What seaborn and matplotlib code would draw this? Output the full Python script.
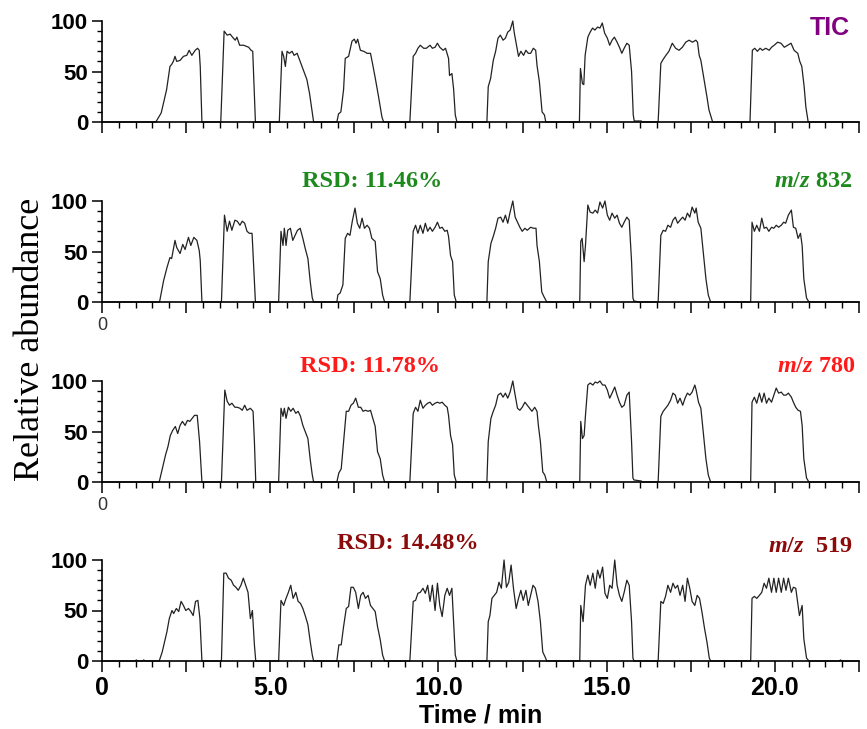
import matplotlib
matplotlib.use("Agg")
import matplotlib.pyplot as plt
import matplotlib.ticker as ticker
import pandas as pd
import seaborn as sns

sns.set_style("ticks")
plt.rcParams['font.family'] = ['Liberation Sans', 'DejaVu Sans']
plt.rcParams['mathtext.fontset'] = 'custom'
plt.rcParams['mathtext.it'] = 'Liberation Serif:italic:bold'
plt.rcParams['mathtext.rm'] = 'Liberation Serif:bold'
for key in ['text.color', 'axes.labelcolor', 'xtick.color', 'ytick.color']:
    plt.rcParams[key] = 'black'

# ---- traces (time in min, relative abundance) ----
tic_t = [0, 1.60, 1.76, 1.83, 1.92, 2.02, 2.07, 2.12, 2.17, 2.22, 2.32, 2.42, 2.52, 2.59, 2.67, 2.77, 2.84, 2.89, 2.92, 2.97,
         3.53, 3.63, 3.72, 3.81, 3.88, 3.96, 4.01, 4.09, 4.21, 4.36, 4.43, 4.48, 4.56,
         5.27, 5.35, 5.40, 5.45, 5.50, 5.57, 5.65, 5.71, 5.80, 5.89, 5.99, 6.09, 6.17, 6.24, 6.29,
         6.98, 7.03, 7.10, 7.18, 7.23, 7.33, 7.43, 7.50, 7.55, 7.60, 7.68, 7.78, 7.88, 7.98, 8.04, 8.13, 8.22, 8.32, 8.37,
         9.15, 9.25, 9.32, 9.39, 9.46, 9.56, 9.64, 9.75, 9.82, 9.90, 9.97, 10.04, 10.14, 10.21, 10.30, 10.33, 10.40, 10.45, 10.50, 10.55,
         11.44, 11.48, 11.55, 11.63, 11.70, 11.77, 11.84, 11.92, 11.99, 12.06, 12.13, 12.21, 12.25, 12.32, 12.38, 12.45, 12.53, 12.60, 12.67, 12.74, 12.82, 12.89, 12.93, 13.00, 13.08, 13.15, 13.19,
         14.19, 14.22, 14.28, 14.32, 14.36, 14.44, 14.51, 14.58, 14.65, 14.73, 14.80, 14.87, 14.94, 15.02, 15.09, 15.16, 15.23, 15.31, 15.38, 15.45, 15.52, 15.60, 15.67, 15.74, 15.79, 15.82, 16.03, 16.05,
         16.53, 16.61, 16.66, 16.76, 16.85, 16.95, 17.05, 17.15, 17.25, 17.35, 17.45, 17.55, 17.65, 17.70, 17.75, 17.80, 17.88, 17.98, 18.04, 18.15,
         19.26, 19.33, 19.40, 19.48, 19.56, 19.63, 19.73, 19.83, 19.90, 19.98, 20.08, 20.18, 20.28, 20.38, 20.48, 20.57, 20.68, 20.74, 20.80, 20.87, 20.92, 20.99,
         22.5]
tic_v = [0, 0, 9, 19, 32, 55, 57, 60, 65, 60, 61, 65, 66, 71, 66, 71, 73, 71, 55, 0,
         0, 90, 86, 87, 84, 81, 84, 76, 76, 74, 71, 70, 0,
         0, 70, 65, 55, 70, 68, 70, 66, 68, 60, 51, 42, 28, 12, 0,
         0, 8, 10, 32, 63, 65, 80, 82, 78, 82, 71, 70, 68, 68, 58, 42, 25, 5, 0,
         0, 65, 68, 73, 76, 73, 73, 76, 73, 74, 78, 74, 71, 73, 63, 46, 48, 33, 7, 0,
         0, 35, 43, 61, 70, 83, 86, 81, 83, 89, 91, 100, 89, 76, 65, 70, 66, 71, 68, 68, 73, 71, 56, 40, 10, 7, 0,
         0, 53, 38, 37, 66, 84, 89, 93, 91, 94, 93, 98, 88, 83, 76, 81, 84, 79, 74, 68, 73, 78, 76, 50, 7, 1, 1, 0,
         0, 58, 61, 66, 70, 78, 73, 71, 74, 79, 81, 79, 81, 79, 66, 61, 45, 25, 12, 0,
         0, 71, 73, 70, 73, 71, 73, 71, 74, 76, 79, 78, 74, 76, 78, 71, 68, 60, 55, 35, 15, 0,
         0]

mz832_t = [0, 1.71, 1.83, 1.93, 2.02, 2.07, 2.17, 2.22, 2.32, 2.40, 2.47, 2.57, 2.64, 2.73, 2.82, 2.89, 2.92, 2.97,
           3.55, 3.64, 3.72, 3.79, 3.86, 3.95, 4.02, 4.10, 4.17, 4.24, 4.31, 4.38, 4.46, 4.50, 4.56,
           5.25, 5.32, 5.38, 5.42, 5.47, 5.52, 5.60, 5.67, 5.74, 5.81, 5.89, 5.97, 6.04, 6.12, 6.19, 6.25, 6.29,
           6.98, 7.01, 7.08, 7.16, 7.23, 7.30, 7.37, 7.44, 7.52, 7.59, 7.66, 7.73, 7.80, 7.88, 7.95, 8.02, 8.12, 8.19, 8.27, 8.34, 8.40,
           9.15, 9.25, 9.32, 9.39, 9.46, 9.54, 9.61, 9.68, 9.75, 9.82, 9.90, 9.97, 10.04, 10.11, 10.19, 10.26, 10.30, 10.36, 10.42, 10.47, 10.53,
           11.44, 11.48, 11.56, 11.63, 11.70, 11.77, 11.85, 11.92, 11.99, 12.06, 12.13, 12.21, 12.28, 12.35, 12.42, 12.49, 12.57, 12.64, 12.74, 12.83, 12.90, 12.93, 13.00, 13.07, 13.14, 13.22,
           14.20, 14.23, 14.27, 14.33, 14.37, 14.44, 14.51, 14.59, 14.66, 14.73, 14.80, 14.88, 14.95, 15.02, 15.09, 15.16, 15.24, 15.31, 15.38, 15.45, 15.52, 15.60, 15.67, 15.74, 15.78, 15.81, 15.96,
           16.53, 16.61, 16.68, 16.75, 16.82, 16.90, 16.97, 17.04, 17.11, 17.18, 17.26, 17.33, 17.40, 17.47, 17.54, 17.62, 17.66, 17.72, 17.80, 17.88, 17.95, 18.02, 18.09,
           19.28, 19.32, 19.39, 19.46, 19.54, 19.61, 19.68, 19.75, 19.82, 19.90, 19.97, 20.04, 20.11, 20.19, 20.26, 20.32, 20.40, 20.49, 20.55, 20.62, 20.69, 20.76, 20.81, 20.86, 20.94, 21.01,
           22.5]
mz832_v = [0, 0, 21, 34, 44, 43, 61, 54, 48, 57, 52, 64, 56, 64, 61, 51, 41, 0,
           0, 86, 70, 80, 71, 81, 80, 76, 80, 78, 70, 68, 68, 40, 0,
           0, 70, 56, 73, 56, 71, 73, 61, 66, 71, 73, 63, 53, 43, 20, 4, 0,
           0, 7, 9, 17, 63, 68, 66, 80, 93, 78, 73, 83, 73, 76, 73, 63, 60, 30, 23, 7, 0,
           0, 70, 76, 68, 76, 68, 78, 70, 74, 70, 74, 79, 73, 74, 70, 71, 65, 46, 40, 7, 0,
           0, 40, 58, 65, 73, 83, 84, 79, 86, 78, 89, 100, 84, 79, 74, 70, 73, 71, 74, 73, 73, 56, 40, 10, 5, 0,
           0, 60, 63, 40, 56, 96, 89, 88, 91, 88, 99, 93, 100, 86, 81, 88, 83, 86, 78, 74, 79, 84, 81, 40, 4, 1, 0,
           0, 66, 71, 70, 76, 74, 81, 84, 78, 81, 84, 81, 88, 84, 94, 88, 93, 79, 73, 46, 23, 7, 0,
           0, 79, 70, 76, 70, 83, 73, 74, 70, 74, 73, 76, 74, 76, 79, 78, 86, 91, 74, 73, 63, 68, 56, 23, 4, 0,
           0]

mz780_t = [0, 1.70, 1.82, 1.89, 1.96, 2.03, 2.10, 2.18, 2.25, 2.32, 2.39, 2.47, 2.54, 2.61, 2.68, 2.75, 2.83, 2.90, 2.97,
           3.55, 3.65, 3.72, 3.79, 3.86, 3.95, 4.02, 4.10, 4.17, 4.24, 4.31, 4.41, 4.49, 4.53, 4.57,
           5.25, 5.32, 5.38, 5.42, 5.47, 5.54, 5.61, 5.68, 5.76, 5.83, 5.90, 5.97, 6.04, 6.12, 6.19, 6.25, 6.29,
           6.98, 7.04, 7.11, 7.18, 7.26, 7.33, 7.40, 7.47, 7.54, 7.62, 7.69, 7.76, 7.83, 7.91, 7.98, 8.05, 8.12, 8.19, 8.27, 8.34, 8.40,
           9.15, 9.25, 9.32, 9.39, 9.46, 9.54, 9.61, 9.68, 9.75, 9.82, 9.90, 9.97, 10.04, 10.11, 10.19, 10.26, 10.30, 10.36, 10.42, 10.47, 10.53,
           11.44, 11.48, 11.56, 11.63, 11.70, 11.77, 11.85, 11.92, 11.99, 12.06, 12.13, 12.21, 12.28, 12.35, 12.42, 12.49, 12.57, 12.64, 12.71, 12.78, 12.86, 12.93, 12.97, 13.03, 13.10, 13.16, 13.22,
           14.20, 14.23, 14.28, 14.33, 14.37, 14.44, 14.51, 14.59, 14.66, 14.73, 14.80, 14.88, 14.95, 15.02, 15.09, 15.16, 15.24, 15.31, 15.38, 15.45, 15.52, 15.60, 15.67, 15.74, 15.78, 15.81, 16.03, 16.05,
           16.53, 16.61, 16.68, 16.75, 16.82, 16.90, 16.97, 17.04, 17.11, 17.18, 17.26, 17.33, 17.40, 17.47, 17.54, 17.62, 17.66, 17.73, 17.80, 17.88, 17.95, 18.02, 18.09,
           19.28, 19.32, 19.39, 19.46, 19.54, 19.61, 19.68, 19.75, 19.82, 19.90, 19.97, 20.04, 20.11, 20.19, 20.26, 20.33, 20.40, 20.49, 20.55, 20.62, 20.69, 20.76, 20.81, 20.86, 20.94, 21.01,
           22.5]
mz780_v = [0, 0, 17, 27, 35, 46, 51, 55, 48, 56, 60, 56, 61, 60, 63, 66, 66, 40, 0,
           0, 91, 80, 76, 78, 74, 74, 73, 71, 76, 71, 73, 70, 40, 0,
           0, 73, 65, 73, 63, 74, 70, 73, 68, 70, 65, 56, 50, 43, 22, 7, 0,
           0, 9, 13, 40, 70, 70, 76, 78, 83, 74, 74, 70, 71, 70, 71, 63, 55, 30, 23, 7, 0,
           0, 68, 74, 70, 81, 73, 76, 78, 79, 76, 78, 79, 78, 79, 76, 74, 66, 46, 37, 7, 0,
           0, 40, 63, 70, 76, 86, 88, 84, 88, 83, 89, 100, 86, 73, 71, 74, 79, 76, 73, 70, 74, 70, 56, 40, 10, 7, 0,
           0, 60, 43, 46, 66, 96, 98, 96, 99, 98, 100, 96, 96, 91, 83, 88, 94, 86, 79, 74, 76, 86, 89, 40, 4, 2, 1, 0,
           0, 65, 70, 73, 76, 81, 88, 86, 78, 83, 76, 83, 88, 86, 89, 96, 91, 79, 73, 46, 23, 7, 0,
           0, 79, 84, 78, 88, 79, 88, 78, 83, 79, 86, 93, 88, 89, 86, 86, 88, 84, 79, 74, 71, 70, 56, 23, 4, 0,
           0]

mz519_t = [0, 0.98, 1.02, 1.06, 1.20, 1.24, 1.28,
           1.70, 1.79, 1.86, 1.93, 2.00, 2.08, 2.13, 2.21, 2.28, 2.35, 2.42, 2.49, 2.57, 2.64, 2.71, 2.78, 2.85, 2.91, 2.97,
           3.55, 3.62, 3.69, 3.76, 3.84, 3.91, 3.98, 4.05, 4.13, 4.20, 4.27, 4.34, 4.41, 4.47, 4.53, 4.57,
           5.25, 5.32, 5.40, 5.47, 5.54, 5.61, 5.68, 5.76, 5.83, 5.90, 5.97, 6.04, 6.12, 6.19, 6.25, 6.29,
           6.98, 7.04, 7.11, 7.18, 7.26, 7.33, 7.40, 7.47, 7.54, 7.62, 7.69, 7.76, 7.83, 7.91, 7.98, 8.05, 8.12, 8.19, 8.27, 8.34, 8.40,
           9.15, 9.25, 9.32, 9.39, 9.46, 9.54, 9.61, 9.68, 9.75, 9.82, 9.90, 9.97, 10.04, 10.11, 10.19, 10.26, 10.33, 10.40, 10.45, 10.50, 10.55,
           11.44, 11.48, 11.53, 11.59, 11.66, 11.73, 11.80, 11.87, 11.95, 12.02, 12.09, 12.16, 12.23, 12.31, 12.38, 12.45, 12.52, 12.60, 12.67, 12.74, 12.81, 12.88, 12.96, 13.03, 13.10, 13.17, 13.22,
           14.20, 14.23, 14.30, 14.37, 14.44, 14.51, 14.59, 14.66, 14.73, 14.80, 14.88, 14.95, 15.02, 15.09, 15.16, 15.24, 15.31, 15.38, 15.45, 15.52, 15.60, 15.67, 15.74, 15.78, 15.81,
           16.53, 16.61, 16.68, 16.75, 16.82, 16.90, 16.97, 17.04, 17.11, 17.18, 17.26, 17.33, 17.40, 17.47, 17.54, 17.62, 17.69, 17.76, 17.83, 17.91, 17.98, 18.05, 18.09,
           19.28, 19.32, 19.39, 19.46, 19.54, 19.61, 19.68, 19.75, 19.82, 19.90, 19.97, 20.04, 20.11, 20.19, 20.26, 20.33, 20.40, 20.49, 20.55, 20.62, 20.69, 20.73, 20.81, 20.86, 20.94, 21.01,
           21.91, 21.95, 21.99, 22.5]
mz519_v = [0, 0, 1, 0, 0, 1, 0,
           0, 9, 19, 29, 42, 50, 47, 52, 49, 59, 55, 50, 52, 49, 45, 59, 60, 42, 0,
           0, 87, 87, 82, 80, 75, 73, 70, 75, 82, 75, 68, 42, 50, 16, 0,
           0, 60, 55, 62, 68, 75, 62, 68, 59, 57, 52, 45, 36, 19, 6, 0,
           0, 16, 16, 34, 52, 54, 73, 73, 68, 52, 65, 68, 62, 65, 55, 52, 49, 34, 21, 6, 0,
           0, 59, 60, 67, 68, 72, 67, 75, 59, 75, 50, 77, 55, 44, 65, 72, 65, 72, 39, 6, 0,
           0, 39, 45, 62, 65, 68, 78, 72, 100, 73, 78, 95, 72, 52, 62, 70, 60, 70, 55, 65, 75, 72, 59, 39, 9, 4, 0,
           0, 55, 39, 75, 85, 75, 87, 72, 90, 82, 93, 67, 62, 75, 72, 100, 75, 65, 59, 68, 80, 75, 39, 3, 0,
           0, 59, 57, 64, 75, 68, 77, 72, 75, 65, 75, 59, 82, 72, 59, 55, 65, 62, 49, 32, 19, 3, 0,
           0, 62, 64, 62, 65, 68, 77, 72, 82, 68, 82, 68, 82, 68, 82, 70, 82, 68, 73, 72, 55, 45, 55, 22, 3, 0,
           0, 1, 0, 0]

rsd_labels = ["", "RSD: 11.46%", "RSD: 11.78%", "RSD: 14.48%"]
mz_labels = ["TIC", r"$\mathit{m/z}$ 832", r"$\mathit{m/z}$ 780", r"$\mathit{m/z}$  519"]
xtick_vals = [0, 5, 10, 15, 20]

traces = [(tic_t, tic_v), (mz832_t, mz832_v), (mz780_t, mz780_v), (mz519_t, mz519_v)]
label_colors = ["#800080", "#1e8a1e", "#ff1a1a", "#8b0a0a"]

fig = plt.figure(figsize=(8.67, 7.29), dpi=100)
left, width, height = 102 / 867, 757 / 867, 101 / 729
zero_rows = [122, 302, 482, 661]

axes = []
for n, (t, v) in enumerate(traces):
    ax = fig.add_axes([left, 1 - zero_rows[n] / 729, width, height])
    df = pd.DataFrame({"time": t, "abundance": v})
    sns.lineplot(data=df, x="time", y="abundance", ax=ax, color="#222222",
                 lw=0.9, estimator=None, sort=False)
    ax.lines[-1].set_clip_on(False)
    ax.set_xlim(0, 22.5)
    ax.set_ylim(0, 100)
    sns.despine(ax=ax)
    for s in ["left", "bottom"]:
        ax.spines[s].set_linewidth(1.2)
        ax.spines[s].set_color("black")
    ax.set_xlabel("")
    ax.set_ylabel("")

    ax.xaxis.set_major_locator(ticker.MultipleLocator(2.5))
    ax.xaxis.set_minor_locator(ticker.MultipleLocator(0.5))
    ax.yaxis.set_major_locator(ticker.FixedLocator([0, 50, 100]))
    ax.yaxis.set_minor_locator(ticker.MultipleLocator(10))
    ax.tick_params(axis="x", which="major", length=8, width=1.1, pad=3)
    ax.tick_params(axis="x", which="minor", length=4.5, width=1.0)
    ax.tick_params(axis="y", which="major", length=7, width=1.1, pad=3)
    ax.tick_params(axis="y", which="minor", length=3.5, width=1.0)
    ax.set_yticks([0, 50, 100])
    ax.set_yticklabels(["0", "50", "100"], fontsize=16, fontweight="bold", color="black")

    if n == 3:
        ax.xaxis.set_major_formatter(ticker.FuncFormatter(
            lambda x, p: ("0" if x == 0 else f"{x:.1f}") if x in xtick_vals else ""))
        ax.tick_params(axis="x", labelsize=18, labelcolor="black")
        for lab in ax.get_xticklabels():
            lab.set_fontweight("bold")
        ax.set_xlabel("Time / min", fontsize=18, fontweight="bold", labelpad=2, color="black")
    elif n in (1, 2):
        ax.xaxis.set_major_formatter(ticker.FuncFormatter(
            lambda x, p: "0" if x == 0 else ""))
        ax.tick_params(axis="x", labelsize=13, labelcolor="#333333")
    else:
        ax.tick_params(axis="x", labelbottom=False)
    axes.append(ax)

# panel annotations
axes[0].text(0.988, 0.86, mz_labels[0], transform=axes[0].transAxes, ha="right",
             va="baseline", fontsize=18, fontweight="bold", color=label_colors[0])
rsd_pos = [None, (0.264, 1.137), (0.262, 1.089), (0.310, 1.109)]
mz_pos = [None, (0.991, 1.137), (0.995, 1.089), (0.991, 1.08)]
for n in (1, 2, 3):
    ax = axes[n]
    ax.text(*rsd_pos[n], rsd_labels[n], transform=ax.transAxes, ha="left", va="baseline",
            fontsize=17.5, fontweight="bold", family="Liberation Serif", color=label_colors[n])
    ax.text(*mz_pos[n], mz_labels[n], transform=ax.transAxes, ha="right", va="baseline",
            fontsize=17.5, fontweight="bold", family="Liberation Serif", color=label_colors[n])

fig.text(0.035, 0.534, "Relative abundance", rotation=90, ha="center", va="center",
         fontsize=26, family="Liberation Serif", color="black")

plt.savefig("out.png", dpi=100)
